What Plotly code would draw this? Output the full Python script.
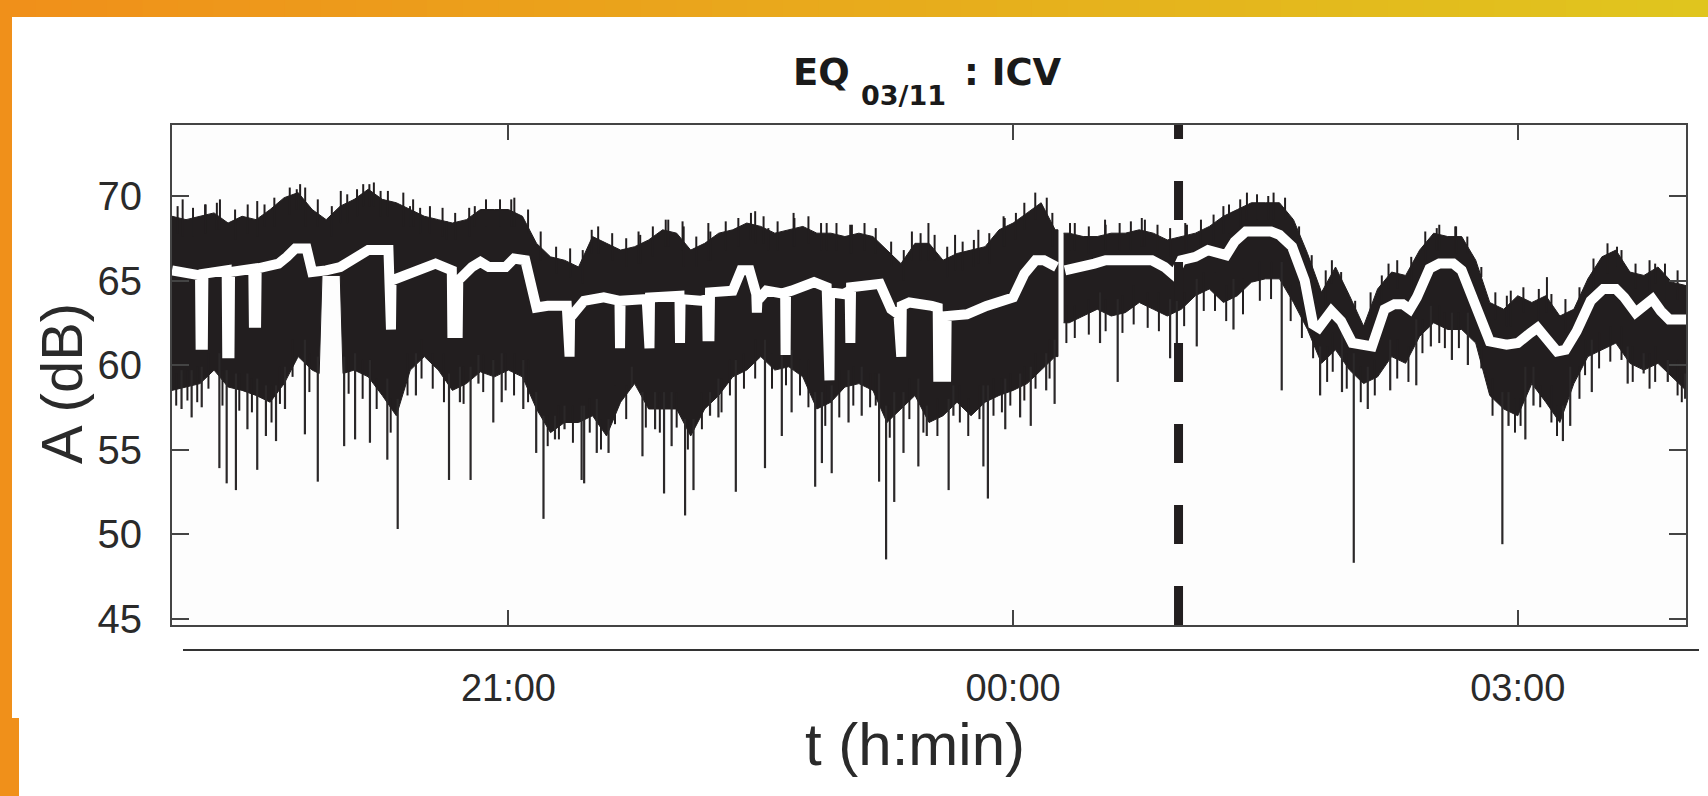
import plotly.graph_objects as go

BLACK = '#221e1f'
FONT = 'Liberation Sans, Arial, Helvetica, sans-serif'

# time axis: minutes after 19:00 (03/11); None marks the short gap in the record
up_t = [0, 5, 10, 15, 20, 25, 30, 35, 40, 45, 50, 55, 60, 65, 70, 75, 80, 85, 90, 95,
        100, 105, 110, 115, 120, 125, 130, 135, 140, 145, 150, 155, 160, 165, 170, 175,
        180, 185, 190, 195, 200, 205, 210, 215, 220, 225, 230, 235, 240, 245, 250, 255,
        260, 265, 270, 275, 280, 285, 290, 295, 300, 305, 310, 315, 316, None,
        318, 320, 325, 330, 335, 340, 345, 350, 355, 360, 365, 370, 375, 380, 385, 390,
        395, 400, 405, 410, 415, 420, 425, 430, 435, 440, 445, 450, 455, 460, 465, 470,
        475, 480, 485, 490, 495, 500, 505, 510, 515, 520, 525, 530, 535, 540]
# upper edge of the dense band (dB)
up_v = [68.8, 68.6, 68.8, 69.0, 68.4, 68.8, 68.6, 69.2, 69.9, 70.2, 69.2, 68.6, 69.4, 69.8, 70.4, 69.8, 69.6, 69.2, 68.8, 68.6,
        68.4, 68.6, 69.2, 69.2, 69.2, 68.8, 67.2, 66.4, 66.2, 65.8, 67.6, 67.2, 66.8, 67.0, 67.4, 68.0,
        67.8, 66.8, 67.2, 67.8, 68.0, 68.4, 68.2, 67.8, 68.0, 68.2, 67.8, 67.8, 67.6, 67.8, 67.6, 66.8,
        66.0, 67.2, 67.2, 66.2, 66.6, 66.8, 67.0, 68.0, 68.4, 69.0, 69.6, 68.0, 68.0, None,
        67.8, 67.8, 67.6, 67.6, 67.8, 67.8, 68.0, 67.8, 67.4, 67.6, 67.8, 68.2, 68.8, 69.2, 69.6, 69.6,
        69.6, 68.6, 66.6, 64.3, 65.8, 64.1, 62.3, 64.5, 65.5, 65.3, 66.8, 67.8, 67.6, 67.6, 66.2, 63.7,
        63.3, 64.1, 63.7, 64.1, 62.9, 63.3, 65.1, 66.4, 66.8, 65.5, 65.3, 65.8, 64.9, 64.7]

lo_t = [0, 5, 10, 15, 20, 25, 30, 35, 40, 45, 50, 52.5, 53.5, 60, 61, 65, 70, 75, 80, 85, 90, 95,
        100, 105, 110, 115, 120, 125, 130, 135, 140, 145, 150, 155, 160, 165, 170, 175,
        180, 185, 190, 195, 200, 205, 210, 215, 220, 225, 230, 235, 240, 245, 250, 255,
        260, 265, 270, 275, 280, 285, 290, 295, 300, 305, 310, 315, 316, None,
        318, 320, 325, 330, 335, 340, 345, 350, 355, 360, 365, 370, 375, 380, 385, 390,
        395, 400, 405, 410, 415, 420, 425, 430, 435, 440, 445, 450, 455, 460, 465, 470,
        475, 480, 485, 490, 495, 500, 505, 510, 515, 520, 525, 530, 535, 540]
# lower edge of the dense band (dB)
lo_v = [58.5, 58.7, 58.9, 59.7, 58.7, 58.5, 58.2, 57.8, 58.9, 60.5, 59.7, 59.5, 65.3, 65.3, 59.5, 59.7, 59.3, 58.2, 57.0, 59.7, 60.5, 59.7,
        58.5, 58.9, 59.6, 59.3, 59.7, 59.3, 57.4, 56.0, 56.6, 56.6, 57.0, 55.8, 57.8, 58.9, 57.4, 57.4,
        57.4, 55.8, 57.4, 58.2, 59.3, 59.7, 60.5, 59.7, 59.9, 59.3, 57.4, 57.8, 58.7, 58.9, 58.5, 56.6,
        57.4, 58.2, 56.6, 57.0, 57.8, 57.0, 57.8, 58.2, 58.5, 58.9, 59.7, 60.5, 60.5, None,
        62.5, 62.5, 62.9, 63.3, 62.9, 63.1, 63.7, 63.3, 62.9, 63.3, 64.1, 64.5, 63.7, 64.1, 64.9, 65.1,
        65.1, 63.7, 62.1, 60.1, 60.9, 59.7, 58.9, 59.3, 60.5, 60.1, 61.7, 62.5, 62.1, 62.1, 61.3, 58.2,
        57.4, 57.0, 58.9, 57.8, 56.6, 58.9, 60.5, 60.9, 61.3, 60.1, 59.7, 60.1, 59.3, 58.5]

# smoothed level (white curve)
mid_t = [0, 7, 10.0, 10.2, 11.0, 11.2, 19.5, 19.7, 20.5, 20.7, 29.0, 29.2, 30.0, 30.2, 38, 41, 44, 48,
         50, 55, 60, 64, 70, 77.2, 77.4, 78.1, 78.3, 89, 94, 99.8, 100.0, 101.9, 102.1, 107, 110,
         113, 119, 122, 126, 130, 134, 140.8, 141.0, 141.8, 142.0, 147, 154, 159.6, 159.8, 160.0,
         169.3, 169.5, 170.3, 170.5, 179, 181.0, 181.2, 181.4, 188.5, 190.8, 191.0, 191.7, 191.9,
         200, 203, 206, 208.4, 208.6, 208.8, 212, 216.5, 218.7, 218.85, 219.0, 221, 229, 233.5,
         233.7, 234.5, 234.7, 239.5, 241.7, 241.95, 242.2, 252.5, 256.5, 259.1, 259.3, 260.1,
         260.3, 263, 271, 273.1, 273.3, 276.1, 276.3, 283.5, 290.5, 300, 304, 308, 311, 315.5, None,
         318.5, 326, 329, 333, 349.5, 354, 357.5, 360, 365, 369.5, 373, 376, 379, 383, 392, 395,
         399.5, 404, 407, 409, 413.5, 417, 421, 428, 432.5, 436, 439, 441.5, 444, 448.5, 452, 457,
         460, 465, 470, 476, 480, 484.5, 487, 490.5, 494, 497, 501, 506, 510.5, 515, 518, 522,
         525.5, 528, 531, 534, 540]
mid_v = [65.6, 65.3, 65.3, 61.2, 61.2, 65.4, 65.6, 60.7, 60.7, 65.5, 65.7, 62.5, 62.5, 65.7, 66.0, 66.4, 66.9, 66.9,
         65.5, 65.6, 65.8, 66.2, 66.8, 66.8, 62.1, 62.1, 65.0, 65.6, 66.0, 65.6, 61.9, 61.9, 65.0, 65.8, 66.1,
         65.8, 65.8, 66.3, 66.2, 63.4, 63.5, 63.5, 60.5, 60.5, 62.8, 63.8, 64.0, 63.8, 61.0, 63.8,
         63.9, 61.0, 61.0, 64.0, 64.2, 64.1, 61.3, 63.9, 63.8, 63.9, 61.7, 61.7, 64.3,
         64.4, 65.6, 65.6, 64.2, 63.1, 63.8, 64.4, 64.2, 64.2, 60.6, 64.3, 64.4, 64.9, 64.6,
         59.1, 59.1, 64.3, 64.2, 64.4, 61.3, 64.6, 64.8, 63.3, 63.0, 60.5, 60.5,
         63.5, 63.7, 63.5, 63.4, 59.3, 59.3, 62.9, 63.0, 63.5, 64.0, 65.4, 66.2, 66.2, 65.8, None,
         65.6, 65.8, 66.0, 66.2, 66.2, 65.8, 65.3, 66.2, 66.4, 66.8, 66.6, 66.5, 67.3, 67.9, 67.9, 67.7,
         67.0, 65.0, 62.4, 62.2, 63.2, 62.6, 61.3, 61.1, 63.3, 63.6, 63.6, 63.3, 64.0, 65.7, 66.0, 66.0,
         65.6, 63.5, 61.4, 61.2, 61.3, 61.9, 62.2, 61.5, 60.8, 60.9, 62.0, 63.8, 64.5, 64.5, 64.0, 63.1,
         63.6, 63.9, 63.2, 62.7, 62.7]

# long downward spikes: time (min) and deepest value (dB)
dip_t = [3.4, 7.0, 10.6, 16.9, 19.5, 22.8, 26.9, 30.4, 33.5, 37.1, 40.3, 47.4, 52, 61.4, 65.3, 70.6,
         76.8, 80.5, 87, 98.8, 102.7, 106.5, 109.3, 114.6, 117.6, 125.3, 129.9, 132.5, 136.6, 140,
         146.1, 147, 151.5, 155.7, 164, 167.8, 172.3, 175.5, 178.2, 183, 186, 191.9, 194.9, 201.1,
         211.5, 217.5, 221, 229.4, 231.8, 235.3, 241.3, 246, 252.2, 254.7, 257.6, 260.9, 266.2,
         269.2, 277, 278.7, 289.4, 291, 297.2, 302.5, 306.3, 311.8, 314.8, 331, 337.3, 356, 358.4,
         365.5, 378.6, 395.8, 409.5, 417.3, 421.5, 426.5, 434.5, 443.8, 449, 456.5, 462.2, 474.5,
         476.7, 482.7, 485.6, 496.1, 498.7, 506.4, 519.2, 524.9, 533.5, 539.7]
dip_v = [57.4, 56.9, 57.5, 53.9, 53.0, 52.6, 56.2, 53.8, 55.8, 55.5, 57.4, 55.9, 53.1, 55.2, 55.6, 55.4,
         54.4, 50.3, 58.2, 53.2, 57.8, 53.2, 58.9, 56.6, 57.8, 57.4, 54.8, 50.9, 55.6, 56.2,
         53.2, 53.0, 54.8, 54.8, 58.7, 54.6, 56.2, 52.4, 55.2, 51.1, 52.6, 57.0, 56.9, 52.5,
         53.9, 55.8, 57.2, 52.8, 54.2, 53.6, 56.6, 57.0, 53.1, 48.5, 51.9, 54.8, 54.0,
         55.8, 52.6, 57.0, 54.0, 52.1, 56.2, 56.9, 56.4, 58.5, 57.7, 61.3, 59.0, 60.4, 60.5,
         61.1, 62.1, 58.5, 58.2, 58.4, 48.3, 57.4, 58.5, 58.8, 61.1, 60.3, 60.0, 49.4,
         56.4, 55.6, 57.6, 55.5, 56.4, 58.4, 58.9, 59.5, 59.0, 58.0]

# short ragged excursions below the band
rag_t = [1.5, 5.5, 9, 13, 18, 24, 28.5, 35.5, 38.5, 43, 49, 63, 68, 73, 78, 84, 89, 93, 97, 104,
         111, 119, 122, 127, 134, 138, 143, 149, 153, 158, 162, 169, 174, 180, 184, 189, 196, 199,
         204, 208, 214, 219, 224, 227, 233, 238, 243, 249, 251, 256, 263, 268, 273, 281, 284, 288,
         293, 296, 299, 304, 308, 313, 319, 322, 327, 333, 339, 343, 348, 352, 361, 368, 372, 376,
         382, 388, 392, 399, 403, 407, 412, 414, 419, 424, 429, 437, 441, 446, 452, 454, 459, 467,
         471, 479, 481, 488, 492, 494, 502, 504, 509, 513, 517, 521, 527, 529, 537, 538.5]
rag_v = [57.6, 57.9, 57.8, 58.6, 57.6, 57.3, 57.2, 56.6, 57.7, 59.3, 58.4, 58.3, 58.0, 57.4, 56.0, 58.2, 59.2, 58.6, 57.8, 57.7,
         58.4, 58.5, 58.2, 57.8, 55.2, 55.6, 55.4, 56.0, 55.0, 56.5, 56.8, 56.3, 56.0, 56.3, 55.0, 56.2, 57.2, 58.2,
         58.6, 59.2, 58.6, 58.8, 58.2, 57.5, 56.4, 56.9, 57.6, 57.5, 57.6, 55.7, 56.8, 56.0, 55.8, 56.6, 55.8, 56.8,
         57.0, 57.2, 57.6, 57.9, 58.6, 59.2, 61.3, 61.6, 61.8, 62.0, 61.9, 62.4, 62.2, 62.0, 62.3, 63.2, 63.2, 62.6,
         63.0, 63.8, 63.9, 62.6, 61.6, 60.4, 59.0, 59.6, 58.6, 57.8, 58.2, 59.2, 59.0, 60.7, 61.3, 61.0, 61.0, 59.8,
         57.0, 56.0, 56.4, 57.5, 56.6, 55.8, 58.0, 59.4, 59.8, 60.2, 60.3, 59.0, 58.6, 59.0, 58.2, 57.8]

# upward excursions above the band
hair_t = [3.8, 11.8, 17.1, 30.4, 44.5, 45.7, 60.2, 68.2, 70.4, 74.4, 84.9, 88.5, 98, 108, 122.1,
          149.7, 166.4, 176.1, 182.1, 191.3, 208, 212.7, 221.7, 233.5, 241.9, 263.9, 269.8, 279.3,
          287.6, 296.6, 307.9, 320.3, 332.8, 345.9, 361.4, 375, 383.4, 392.9, 413.7, 433.9, 451.1,
          457.7, 476.1, 490.4, 515.4, 529,
          2, 7.5, 12, 16, 22.5, 27, 33, 36.5, 42, 47.5, 52, 57, 62.5, 66, 72, 77, 82.5, 86, 92, 96.5,
          101, 106, 112, 117, 121, 127, 131.5, 137, 142, 146.5, 152, 157, 162, 167, 171.5, 177, 182.5,
          187, 192, 197.5, 202, 206.5, 211, 216, 222, 227, 231.5, 237, 242.5, 247, 251, 256.5, 261,
          267, 272, 276.5, 282, 286, 291.5, 297, 301, 304, 312, 314, 322, 327, 333, 338, 342, 347,
          351.5, 356, 362, 367, 371.5, 377, 381, 387, 391, 397, 402, 406.5, 411.5, 417, 422, 427.5,
          431.5, 437, 442, 447, 452, 458, 462, 467, 472, 477.5, 482, 487.5, 492, 497, 502, 507, 512,
          517, 522, 527, 532.5, 537]
hair_v = [69.8, 69.5, 69.8, 69.7, 70.4, 70.7, 70.3, 70.7, 70.7, 70.3, 69.4, 69.3, 68.5, 69.4, 69.9,
          68.0, 67.9, 68.6, 68.5, 68.4, 69.1, 68.1, 69.0, 68.4, 68.3, 67.9, 68.4, 67.7,
          68.0, 68.8, 70.2, 68.4, 68.6, 68.7, 68.4, 69.4, 70.2, 70.2, 66.2, 66.0, 68.1,
          68.2, 64.1, 65.2, 67.0, 66.0,
          69.4, 69.3, 69.5, 69.6, 69.2, 69.5, 69.5, 69.9, 70.5, 70.5, 69.8, 69.4, 70.1, 70.4, 70.8, 70.3, 70.2, 69.8, 69.4, 69.3,
          69.0, 69.3, 69.8, 69.8, 69.8, 69.2, 67.9, 67.0, 66.9, 66.8, 68.2, 67.8, 67.5, 67.7, 68.2, 68.6, 68.2,
          67.6, 67.9, 68.5, 68.7, 69.0, 68.8, 68.5, 68.7, 68.8, 68.4, 68.4, 68.3, 68.4, 68.1, 67.3, 66.8,
          67.8, 67.7, 67.0, 67.3, 67.4, 67.8, 68.7, 69.0, 69.6, 69.9, 69.0, 68.4, 68.2, 68.3, 68.4, 68.5, 68.6,
          68.3, 68.1, 68.3, 68.6, 68.9, 69.5, 69.8, 70.1, 70.0, 69.9, 68.2, 66.5, 65.6, 65.5, 63.8, 64.3,
          65.3, 66.2, 66.4, 67.9, 68.3, 68.2, 67.6, 65.8, 64.3, 64.4, 64.6, 64.5, 64.2, 63.9, 64.6, 66.3, 67.2,
          66.8, 66.0, 66.2, 66.0, 65.6]

quake_t = 359  # earthquake marker (00:59)
x_ticks = [120, 300, 480]
x_labels = ['21:00', '00:00', '03:00']
y_ticks = [45, 50, 55, 60, 65, 70]


def split(ts, vs):
    segs, cur = [], ([], [])
    for t, v in zip(ts, vs):
        if t is None:
            segs.append(cur)
            cur = ([], [])
        else:
            cur[0].append(t)
            cur[1].append(v)
    segs.append(cur)
    return segs


def nearest(ts, vs, t):
    return min((abs(a - t), b) for a, b in zip(ts, vs) if a is not None)[1]


fig = go.Figure()

# dense band
for (ut, uv), (lt, lv) in zip(split(up_t, up_v), split(lo_t, lo_v)):
    fig.add_trace(go.Scatter(x=ut + lt[::-1], y=uv + lv[::-1], fill='toself',
                             fillcolor=BLACK, line=dict(color=BLACK, width=1),
                             mode='lines', hoverinfo='skip'))

# spikes below / hairs above
sx, sy = [], []
for t, v in zip(dip_t, dip_v):
    sx += [t, t, None]
    sy += [nearest(lo_t, lo_v, t) + 1.0, v, None]
fig.add_trace(go.Scatter(x=sx, y=sy, mode='lines', line=dict(color='#2b2829', width=2.2),
                         hoverinfo='skip'))
fx, fy = [], []
for t, v in zip(rag_t, rag_v):
    fx += [t, t, None]
    fy += [nearest(lo_t, lo_v, t) + 1.0, v, None]
for t, v in zip(hair_t, hair_v):
    fx += [t, t, None]
    fy += [nearest(up_t, up_v, t) - 1.0, v, None]
fig.add_trace(go.Scatter(x=fx, y=fy, mode='lines', line=dict(color=BLACK, width=2),
                         hoverinfo='skip'))

# smoothed curve
fig.add_trace(go.Scatter(x=mid_t, y=mid_v, mode='lines', line=dict(color='white', width=10),
                         hoverinfo='skip'))


def px(x):
    return (x - 172) / 1514


def py(y):
    return (625 - y) / 500


shapes = []
# orange/yellow frame of the slide
c0, c1 = (240, 144, 26), (224, 197, 30)
n = 48
for i in range(n):
    f = i / (n - 1)
    col = 'rgb(%d,%d,%d)' % tuple(round(a + (b - a) * f) for a, b in zip(c0, c1))
    shapes.append(dict(type='rect', xref='paper', yref='paper', layer='below',
                       x0=px(1708 * i / n), x1=px(1708 * (i + 1) / n + 1), y0=py(17), y1=py(0),
                       fillcolor=col, line=dict(width=0)))
shapes.append(dict(type='rect', xref='paper', yref='paper', x0=px(0), x1=px(12), y0=py(719), y1=py(16),
                   fillcolor='rgb(240,144,26)', line=dict(width=0)))
shapes.append(dict(type='rect', xref='paper', yref='paper', x0=px(0), x1=px(19), y0=py(796), y1=py(718),
                   fillcolor='rgb(240,144,26)', line=dict(width=0)))
# detached time axis line
shapes.append(dict(type='line', xref='paper', yref='paper', x0=px(183), x1=px(1699), y0=py(650), y1=py(650),
                   line=dict(color='#333', width=2)))
# earthquake time
shapes.append(dict(type='line', xref='x', yref='paper', x0=quake_t, x1=quake_t, y0=0, y1=1,
                   line=dict(color=BLACK, width=9, dash='39px,42px')))

tc = '#2a2a2a'
TFONT = 'DejaVu Sans, Arial, sans-serif'
annotations = [
    dict(text='<b>EQ</b>', x=px(791), y=py(73), xanchor='left', yanchor='middle',
         font=dict(size=37, color='#1a1a1a', family=TFONT)),
    dict(text='<b>03/11</b>', x=px(859), y=py(96), xanchor='left', yanchor='middle',
         font=dict(size=27, color='#1a1a1a', family=TFONT)),
    dict(text='<b>: ICV</b>', x=px(962), y=py(73), xanchor='left', yanchor='middle',
         font=dict(size=37, color='#1a1a1a', family=TFONT)),
    dict(text='A (dB)', textangle=-90, x=px(61), y=py(384), xanchor='center', yanchor='middle',
         font=dict(size=58, color=tc)),
    dict(text='t (h:min)', x=px(915), y=py(744), xanchor='center', yanchor='middle',
         font=dict(size=60, color=tc)),
]
for a in annotations:
    a.update(xref='paper', yref='paper', showarrow=False)

fig.update_layout(
    width=1708, height=796,
    margin=dict(l=172, r=22, t=125, b=171),
    paper_bgcolor='white', plot_bgcolor='#fdfdfd',
    showlegend=False,
    font=dict(family=FONT, color=tc),
    shapes=shapes, annotations=annotations,
    xaxis=dict(range=[0, 540], tickvals=x_ticks, ticktext=x_labels, ticks='inside', ticklen=15,
               tickwidth=1.5, tickcolor='#444', showline=True, linecolor='#444', linewidth=2,
               mirror='ticks', showgrid=False, zeroline=False, tickfont=dict(size=38, color=tc),
               ticklabelstandoff=28),
    yaxis=dict(range=[44.62, 74.2], tickvals=y_ticks, ticks='inside', ticklen=17,
               tickwidth=1.5, tickcolor='#444', showline=True, linecolor='#444', linewidth=2,
               mirror='ticks', showgrid=False, zeroline=False, tickfont=dict(size=40, color=tc),
               ticklabelstandoff=20),
)

fig.write_html('out.html', config={'displayModeBar': False},
               post_script="document.body.style.margin='0';document.body.style.overflow='hidden';")
